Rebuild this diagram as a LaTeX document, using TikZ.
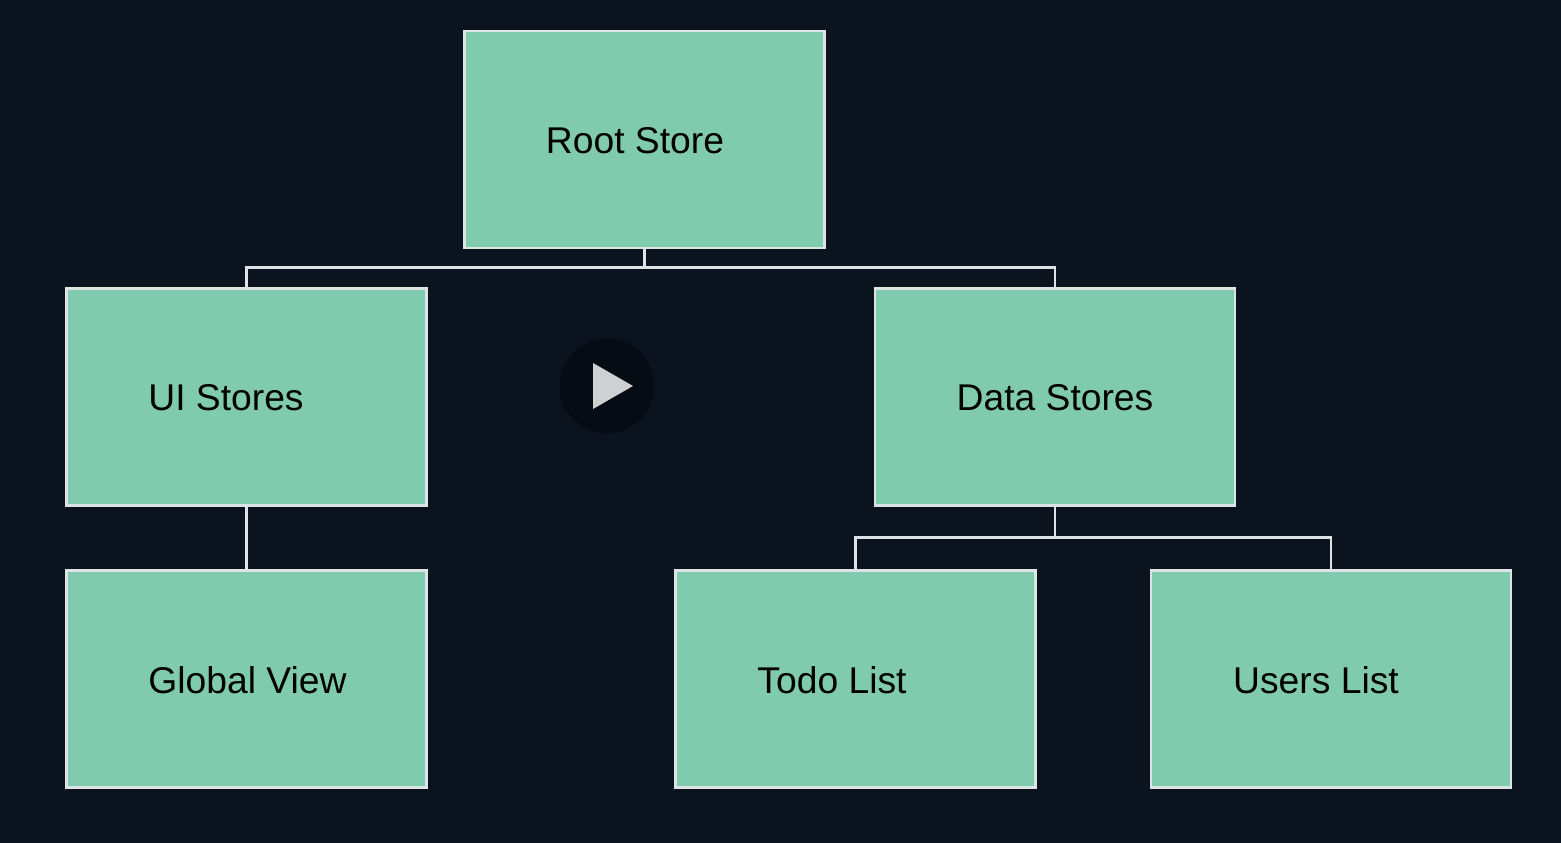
\documentclass[tikz,border=0pt]{standalone}
\usepackage{fontspec}
\setmainfont{Liberation Sans}
\definecolor{pagebg}{HTML}{0B131E}
\definecolor{boxfill}{HTML}{80CBAD}
\definecolor{boxline}{HTML}{DDE4E6}
\definecolor{playbg}{HTML}{060C13}
\definecolor{playfg}{HTML}{CFD0D2}
\tikzset{
  store/.style={draw=boxline, line width=0.6pt, fill=boxfill, minimum width=3.60cm, minimum height=2.17cm, inner sep=0pt, outer sep=0pt},
  storetext/.style={font=\fontsize{10.6}{12}\selectfont, text=black, inner sep=0pt, yshift=-0.01cm},
  link/.style={draw=boxline, line width=0.6pt}
}
\begin{document}
\begin{tikzpicture}
\fill[pagebg] (0,0) rectangle (15.61,8.43);

\node[store, label={[storetext, xshift=-0.095cm]center:Root Store}] (root) at (6.445,7.035) {};
\node[store, label={[storetext, xshift=-0.205cm]center:UI Stores}] (ui) at (2.465,4.46) {};
\node[store, label={[storetext]center:Data Stores}] (data) at (10.55,4.46) {};
\node[store, label={[storetext, xshift=0.01cm]center:Global View}] (global) at (2.465,1.64) {};
\node[store, label={[storetext, xshift=-0.235cm]center:Todo List}] (todo) at (8.555,1.64) {};
\node[store, label={[storetext, xshift=-0.15cm]center:Users List}] (users) at (13.31,1.64) {};

\coordinate (rootbus) at (6.445,5.755);
\coordinate (databus) at (10.55,3.055);

\draw[link] (root.south) -- (rootbus);
\draw[link] (ui.north) |- (rootbus) -| (data.north);
\draw[link] (ui.south) -- (global.north);
\draw[link] (data.south) -- (databus);
\draw[link] (todo.north) |- (databus) -| (users.north);

\node[circle, fill=playbg, minimum size=0.95cm, inner sep=0pt] (play) at (6.07,4.57) {};
\fill[playfg] (5.93,4.80) -- (6.33,4.57) -- (5.93,4.34) -- cycle;
\end{tikzpicture}
\end{document}
